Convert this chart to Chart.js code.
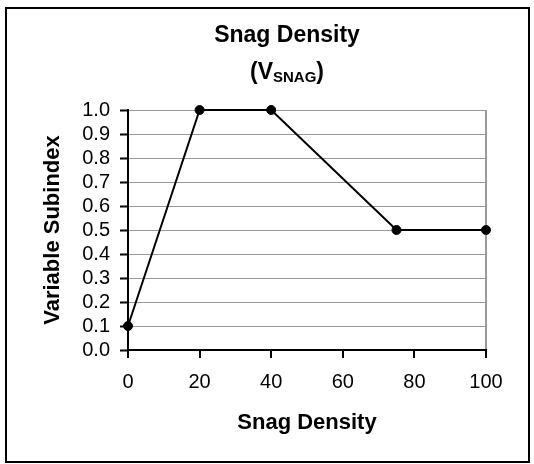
<!DOCTYPE html>
<html>
<head>
<meta charset="utf-8">
<script src="https://cdn.jsdelivr.net/npm/chart.js@4"></script>
<style>
  html, body { margin: 0; padding: 0; background: #fff; }
  #wrap { width: 534px; height: 464px; }
</style>
</head>
<body>
<div id="wrap"><canvas id="chart" width="534" height="464"></canvas></div>
<script>
// data
const snagDensity = [0, 20, 40, 75, 100];
const subindex = [0.1, 1.0, 1.0, 0.5, 0.5];
const titleLine = 'Snag Density';
const titleVar = 'V';
const titleSub = 'SNAG';
const xTitle = 'Snag Density';
const yTitle = 'Variable Subindex';

const FONT = "'Liberation Sans', Arial, sans-serif";

// outer frame + two-line title with subscript
const frameAndTitle = {
  id: 'frameAndTitle',
  afterDraw(chart) {
    const c = chart.ctx;
    c.save();
    c.strokeStyle = '#000';
    c.lineWidth = 2;
    c.strokeRect(6, 8, 523, 454);

    c.fillStyle = '#000';
    c.textBaseline = 'middle';
    c.textAlign = 'left';
    const cx = 287;
    c.font = 'bold 23px ' + FONT;
    let w = c.measureText(titleLine).width;
    c.fillText(titleLine, cx - w / 2, 36);

    // "(V" + sub "SNAG" + ")"
    const a = '(' + titleVar;
    const wa = c.measureText(a).width;
    const wc = c.measureText(')').width;
    c.font = 'bold 15px ' + FONT;
    const wb = c.measureText(titleSub).width;
    let x = cx - (wa + wb + wc) / 2;
    c.font = 'bold 23px ' + FONT;
    c.fillText(a, x, 73);
    x += wa;
    c.font = 'bold 15px ' + FONT;
    c.fillText(titleSub, x, 78);
    x += wb;
    c.font = 'bold 23px ' + FONT;
    c.fillText(')', x, 73);
    c.restore();
  }
};

function noPad(scale) {
  scale.paddingTop = 0;
  scale.paddingBottom = 0;
  scale.paddingLeft = 0;
  scale.paddingRight = 0;
}

Chart.defaults.color = '#000';
Chart.defaults.font.family = FONT;

new Chart(document.getElementById('chart').getContext('2d'), {
  type: 'scatter',
  data: {
    datasets: [{
      data: snagDensity.map((x, i) => ({ x: x, y: subindex[i] })),
      showLine: true,
      borderColor: '#000',
      borderWidth: 2,
      backgroundColor: '#000',
      pointRadius: 4.5,
      pointBorderWidth: 1,
      pointBorderColor: '#000',
      pointBackgroundColor: '#000',
      clip: false
    }]
  },
  options: {
    responsive: false,
    animation: false,
    events: [],
    layout: { padding: { left: 0, top: 110, right: 48, bottom: 14 } },
    plugins: { legend: { display: false }, tooltip: { enabled: false }, title: { display: false } },
    scales: {
      x: {
        type: 'linear',
        min: 0,
        max: 100,
        afterFit(s) { s.height = 100; noPad(s); },
        ticks: { stepSize: 20, autoSkip: false, maxRotation: 0, padding: 12, font: { size: 20 }, color: '#000' },
        grid: {
          color: ctx => (ctx.tick && ctx.tick.value === 100) ? '#999' : 'rgba(0,0,0,0)',
          lineWidth: 2,
          tickColor: '#000',
          tickLength: 8,
          tickWidth: 2
        },
        border: { color: '#000', width: 2 },
        title: { display: true, text: xTitle, font: { size: 22, weight: 'bold' }, color: '#000', padding: { top: 0, bottom: 14 } }
      },
      y: {
        min: 0,
        max: 1,
        afterFit(s) { s.width = 128; noPad(s); },
        ticks: { stepSize: 0.1, autoSkip: false, padding: 10, font: { size: 20 }, color: '#000', callback: v => v.toFixed(1) },
        grid: { color: '#999', lineWidth: 1, tickColor: '#000', tickLength: 8, tickWidth: 2 },
        border: { color: '#000', width: 2 },
        title: { display: true, text: yTitle, font: { size: 22, weight: 'bold' }, color: '#000', padding: { top: 40, bottom: 0 } }
      }
    }
  },
  plugins: [frameAndTitle]
});
</script>
</body>
</html>
